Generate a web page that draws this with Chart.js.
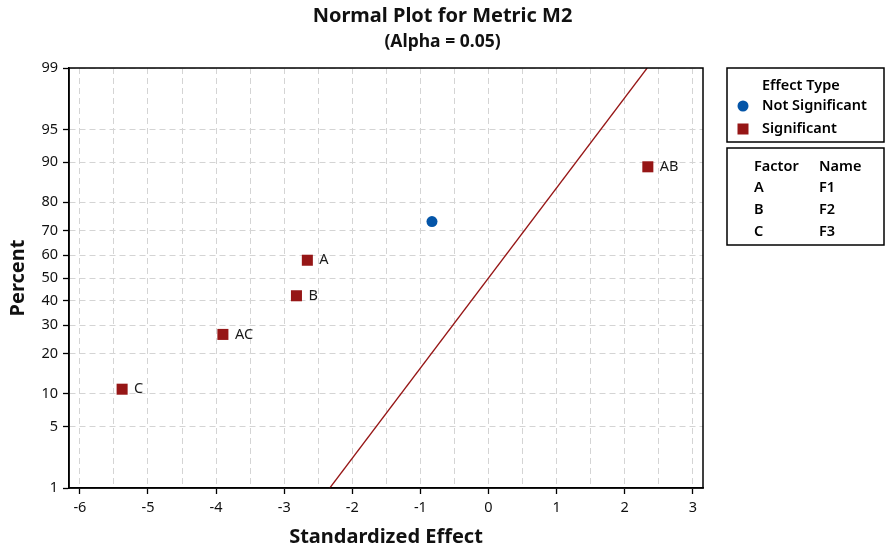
<!DOCTYPE html>
<html>
<head>
<meta charset="utf-8">
<title>Normal Plot for Metric M2</title>
<script src="https://cdn.jsdelivr.net/npm/chart.js@4.4.0/dist/chart.umd.min.js"></script>
<style>
  html, body { margin: 0; padding: 0; background: #fff; }
  #wrap { width: 885px; height: 550px; }
</style>
</head>
<body>
<div id="wrap"><canvas id="myChart" width="885" height="550"></canvas></div>
<script>
// effects (standardized effect, percent)
const sigLabels = ['C', 'AC', 'B', 'A', 'AB'];
const sigEffects = [-5.38, -3.90, -2.82, -2.66, 2.34];
const sigPercents = [10.9, 26.6, 42.2, 57.8, 89.1];

const nonSigEffects = [-0.83];
const nonSigPercents = [73.4];

// reference line (normal distribution of effects)
const refEffects = [-2.33, 2.33];
const refPercents = [1, 99];

const yTickPercents = [1, 5, 10, 20, 30, 40, 50, 60, 70, 80, 90, 95, 99];
const xGridValues = [-6, -5.5, -5, -4.5, -4, -3.5, -3, -2.5, -2, -1.5, -1, -0.5, 0, 0.5, 1, 1.5, 2, 2.5, 3];

const factorLetters = ['A', 'B', 'C'];
const factorNames = ['F1', 'F2', 'F3'];

const FONT = '"Noto Sans", "Open Sans", sans-serif';
const RED = '#961616';
const BLUE = '#0455a8';

// percent -> normal quantile (Acklam's approximation)
const probit = (pct) => {
  const p = pct / 100;
  const a = [-3.969683028665376e+01, 2.209460984245205e+02, -2.759285104469687e+02, 1.383577518672690e+02, -3.066479806614716e+01, 2.506628277459239e+00];
  const b = [-5.447609879822406e+01, 1.615858368580409e+02, -1.556989798598866e+02, 6.680131188771972e+01, -1.328068155288572e+01];
  const c = [-7.784894002430293e-03, -3.223964580411365e-01, -2.400758277161838e+00, -2.549732539343734e+00, 4.374664141464968e+00, 2.938163982698783e+00];
  const d = [7.784695709041462e-03, 3.224671290700398e-01, 2.445134137142996e+00, 3.754408661907416e+00];
  const pLow = 0.02425;
  let q, r;
  if (p < pLow) {
    q = Math.sqrt(-2 * Math.log(p));
    return (((((c[0]*q+c[1])*q+c[2])*q+c[3])*q+c[4])*q+c[5]) / ((((d[0]*q+d[1])*q+d[2])*q+d[3])*q+1);
  }
  if (p > 1 - pLow) {
    q = Math.sqrt(-2 * Math.log(1 - p));
    return -(((((c[0]*q+c[1])*q+c[2])*q+c[3])*q+c[4])*q+c[5]) / ((((d[0]*q+d[1])*q+d[2])*q+d[3])*q+1);
  }
  q = p - 0.5;
  r = q * q;
  return (((((a[0]*r+a[1])*r+a[2])*r+a[3])*r+a[4])*r+a[5])*q / (((((b[0]*r+b[1])*r+b[2])*r+b[3])*r+b[4])*r+1);
};

const toPoints = (xs, pcts) => xs.map((x, i) => ({ x: x, y: probit(pcts[i]) }));

// plot border, point labels and the two boxes on the right
const extras = {
  id: 'extras',
  afterDraw(chart) {
    const ctx = chart.ctx;
    const area = chart.chartArea;
    const xs = chart.scales.x;
    const ys = chart.scales.y;
    ctx.save();
    ctx.strokeStyle = '#000';
    ctx.lineWidth = 1.5;
    ctx.strokeRect(area.left, area.top, area.right - area.left, area.bottom - area.top);

    ctx.font = '14.5px ' + FONT;
    ctx.fillStyle = '#1a1a1a';
    ctx.textBaseline = 'middle';
    ctx.textAlign = 'left';
    sigEffects.forEach((x, i) => {
      const px = xs.getPixelForValue(x);
      const py = ys.getPixelForValue(probit(sigPercents[i]));
      ctx.fillText(sigLabels[i], px + 12, py);
    });

    // legend box: effect type
    ctx.font = '600 14.5px ' + FONT;
    ctx.strokeStyle = '#000';
    ctx.lineWidth = 1.5;
    ctx.strokeRect(727, 68, 157, 74);
    ctx.fillStyle = '#000';
    ctx.fillText('Effect Type', 762, 86);
    ctx.fillText('Not Significant', 762, 106);
    ctx.fillText('Significant', 762, 129);
    ctx.fillStyle = BLUE;
    ctx.beginPath();
    ctx.arc(743, 106, 5.5, 0, Math.PI * 2);
    ctx.fill();
    ctx.fillStyle = RED;
    ctx.fillRect(737.5, 123.5, 11, 11);

    // legend box: factor names
    ctx.strokeRect(727, 148, 157, 97);
    ctx.fillStyle = '#000';
    ctx.fillText('Factor', 754, 167);
    ctx.fillText('Name', 819, 167);
    factorLetters.forEach((f, i) => {
      const y = 188 + i * 21.7;
      ctx.fillText(f, 754, y);
      ctx.fillText(factorNames[i], 819, y);
    });
    ctx.restore();
  }
};

const ctx = document.getElementById('myChart').getContext('2d');
const chart = new Chart(ctx, {
  type: 'scatter',
  data: {
    datasets: [
      {
        label: 'Significant',
        data: toPoints(sigEffects, sigPercents),
        pointStyle: 'rect',
        pointRadius: 7.8,
        pointHoverRadius: 7.8,
        backgroundColor: RED,
        borderColor: RED,
        borderWidth: 0
      },
      {
        label: 'Not Significant',
        data: toPoints(nonSigEffects, nonSigPercents),
        pointStyle: 'circle',
        pointRadius: 5.5,
        pointHoverRadius: 5.5,
        backgroundColor: BLUE,
        borderColor: BLUE,
        borderWidth: 0
      },
      {
        label: 'Reference',
        data: toPoints(refEffects, refPercents),
        showLine: true,
        pointRadius: 0,
        borderColor: RED,
        borderWidth: 1.3,
        fill: false
      }
    ]
  },
  options: {
    responsive: false,
    animation: false,
    layout: { padding: 0 },
    plugins: {
      legend: { display: false },
      tooltip: { enabled: false },
      title: {
        display: true,
        text: 'Normal Plot for Metric M2',
        color: '#111',
        font: { family: FONT, size: 20, weight: 'bold' },
        padding: { top: 4, bottom: 4 }
      },
      subtitle: {
        display: true,
        text: '(Alpha = 0.05)',
        color: '#111',
        font: { family: FONT, size: 17.5, weight: 'bold' },
        padding: { top: 0, bottom: 15 }
      }
    },
    scales: {
      x: {
        type: 'linear',
        min: -6.16,
        max: 3.15,
        afterBuildTicks: (scale) => {
          scale.ticks = xGridValues.map((v) => ({ value: v }));
        },
        afterFit: (scale) => { scale.height = 62; },
        ticks: {
          autoSkip: false,
          maxRotation: 0,
          padding: 5,
          color: '#111',
          font: { family: FONT, size: 14.5 },
          callback: (value) => (Number.isInteger(value) ? String(value) : '')
        },
        grid: {
          color: '#d4d4d4',
          lineWidth: 1,
          tickLength: 6,
          tickWidth: 1.3,
          tickBorderDash: [],
          tickColor: (c) => (c.tick && Number.isInteger(c.tick.value) ? '#000' : 'rgba(0,0,0,0)')
        },
        border: { color: '#000', width: 1.5, dash: [6, 4] },
        title: {
          display: true,
          text: 'Standardized Effect',
          color: '#111',
          font: { family: FONT, size: 20, weight: 'bold' },
          padding: { top: 0, bottom: 1 }
        }
      },
      y: {
        type: 'linear',
        min: probit(1),
        max: probit(99),
        afterBuildTicks: (scale) => {
          scale.ticks = yTickPercents.map((p) => ({ value: probit(p) }));
        },
        afterFit: (scale) => { scale.width = 69; },
        ticks: {
          autoSkip: false,
          padding: 5,
          color: '#111',
          font: { family: FONT, size: 14.5 },
          callback: (value, index) => String(yTickPercents[index])
        },
        grid: {
          color: '#d4d4d4',
          lineWidth: 1,
          tickLength: 6,
          tickWidth: 1.3,
          tickBorderDash: [],
          tickColor: '#000'
        },
        border: { color: '#000', width: 1.5, dash: [6, 4] },
        title: {
          display: true,
          text: 'Percent',
          color: '#111',
          font: { family: FONT, size: 20, weight: 'bold' },
          padding: { top: 6, bottom: 0 }
        }
      },
      // empty right-hand strip that holds the boxes, keeps titles centred on the page
      side: {
        type: 'linear',
        position: 'right',
        afterFit: (scale) => { scale.width = 182; },
        ticks: { display: false },
        grid: { display: false },
        border: { display: false }
      }
    }
  },
  plugins: [extras]
});
</script>
</body>
</html>
